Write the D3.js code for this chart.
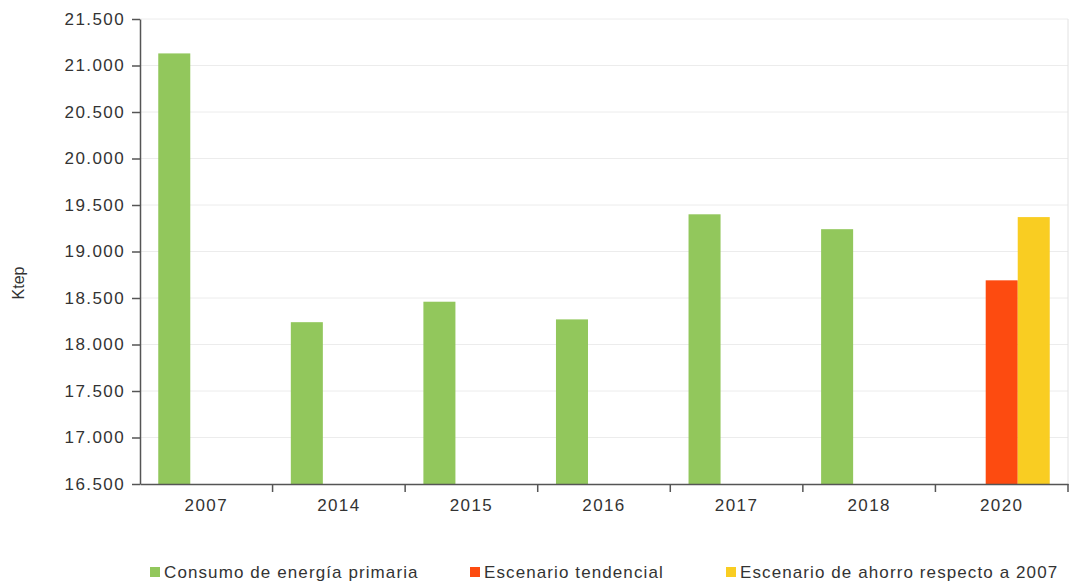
<!DOCTYPE html>
<html>
<head>
<meta charset="utf-8">
<script src="https://cdn.jsdelivr.net/npm/d3@7"></script>
<style>
  body { margin: 0; background: #fff; }
  svg { font-family: "Liberation Sans", Arial, sans-serif; }
</style>
</head>
<body>
<svg></svg>
<script>
// data
const years = ["2007", "2014", "2015", "2016", "2017", "2018", "2020"]
const seriesNames = ["Consumo de energía primaria", "Escenario tendencial", "Escenario de ahorro respecto a 2007"]
const consumo = [21130, 18240, 18460, 18270, 19400, 19240, null]
const tendencial = [null, null, null, null, null, null, 18690]
const ahorro = [null, null, null, null, null, null, 19370]
const colors = ["#92c75c", "#fd4b10", "#f9cd22"]
const yTicks = [16500, 17000, 17500, 18000, 18500, 19000, 19500, 20000, 20500, 21000, 21500]

const svgWidth = 1075, svgHeight = 586
const margin = { top: 19, right: 7, bottom: 102, left: 140 }
const width = svgWidth - margin.left - margin.right
const height = svgHeight - margin.top - margin.bottom

const svg = d3.select("svg")
  .attr("width", svgWidth)
  .attr("height", svgHeight)

const g = svg.append("g")
  .attr("transform", "translate(" + margin.left + "," + margin.top + ")")

const es = d3.formatLocale({ decimal: ",", thousands: ".", grouping: [3], currency: ["", "€"] })

const x0 = d3.scaleBand().domain(years).range([0, width]).paddingInner(0).paddingOuter(0)
const x1 = d3.scaleBand().domain(d3.range(3)).range([0, x0.bandwidth()]).paddingInner(0).paddingOuter(0.57)
const y = d3.scaleLinear().domain([16500, 21500]).range([height, 0])

// gridlines
g.append("g")
  .selectAll("line")
  .data(yTicks.slice(1))
  .join("line")
  .attr("x1", 0)
  .attr("x2", width)
  .attr("y1", d => y(d))
  .attr("y2", d => y(d))
  .attr("stroke", "#ececec")
  .attr("stroke-width", 1)

// right border
g.append("line")
  .attr("x1", width).attr("x2", width)
  .attr("y1", 0).attr("y2", height)
  .attr("stroke", "#e2e2e2")

// bars
const allSeries = [consumo, tendencial, ahorro]
const barData = []
years.forEach((yr, i) => {
  allSeries.forEach((s, k) => {
    if (s[i] != null) barData.push({ year: yr, k: k, value: s[i] })
  })
})

g.append("g")
  .selectAll("rect")
  .data(barData)
  .join("rect")
  .attr("x", d => x0(d.year) + x1(d.k))
  .attr("width", x1.bandwidth())
  .attr("y", d => y(d.value))
  .attr("height", d => height - y(d.value))
  .attr("fill", d => colors[d.k])

// y axis
const yAxis = g.append("g")
  .call(d3.axisLeft(y).tickValues(yTicks).tickFormat(es.format(",.0f")).tickSize(8).tickSizeOuter(0).tickPadding(7))
yAxis.select(".domain").attr("stroke", "#555").attr("stroke-width", 1.5)
yAxis.selectAll(".tick line").attr("stroke", "#555").attr("stroke-width", 1.5)
yAxis.selectAll("text").attr("fill", "#333").style("font-size", "17px").style("letter-spacing", "1.4px")

// x axis, ticks sit at band edges
const xAxis = g.append("g")
  .attr("transform", "translate(0," + height + ")")
  .call(d3.axisBottom(x0).tickSize(0).tickPadding(15))
xAxis.select(".domain").attr("stroke", "#555").attr("stroke-width", 1.5)
xAxis.selectAll("text").attr("fill", "#333").style("font-size", "17px").style("letter-spacing", "1.4px")
xAxis.selectAll(".edge")
  .data(years.slice(1).concat(["end"]))
  .join("line")
  .attr("class", "edge")
  .attr("x1", d => d === "end" ? width : x0(d))
  .attr("x2", d => d === "end" ? width : x0(d))
  .attr("y1", 0)
  .attr("y2", 8)
  .attr("stroke", "#555")
  .attr("stroke-width", 1.5)

// y label
svg.append("text")
  .attr("transform", "translate(24,283) rotate(-90)")
  .attr("text-anchor", "middle")
  .attr("fill", "#333")
  .style("font-size", "16px")
  .text("Ktep")

// legend
const legendX = [150, 470, 726]
const legend = svg.append("g").attr("transform", "translate(0,572)")
seriesNames.forEach((name, i) => {
  const item = legend.append("g").attr("transform", "translate(" + legendX[i] + ",0)")
  item.append("rect")
    .attr("x", 0).attr("y", -5)
    .attr("width", 10).attr("height", 10)
    .attr("fill", colors[i])
  item.append("text")
    .attr("x", 14).attr("y", 6)
    .attr("fill", "#333")
    .style("font-size", "17px")
    .style("letter-spacing", "1.1px")
    .text(name)
})
</script>
</body>
</html>
